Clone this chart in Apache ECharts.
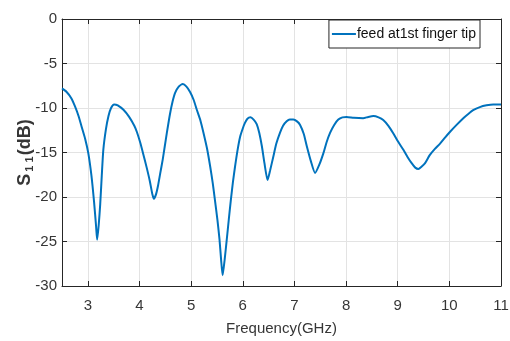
<!DOCTYPE html>
<html><head><meta charset="utf-8">
<script src="https://cdn.jsdelivr.net/npm/echarts@6/dist/echarts.min.js"></script>
<style>html,body{margin:0;padding:0;background:#fff}#c{width:510px;height:341px}</style>
</head><body><div id="c"></div>
<script>
const freqGHz = [2.50,2.59,2.68,2.75,2.82,2.88,2.95,3.01,3.07,3.12,3.16,3.18,3.21,3.24,3.27,3.30,3.35,3.40,3.45,3.51,3.58,3.69,3.80,3.90,3.95,4.01,4.07,4.14,4.20,4.25,4.28,4.32,4.36,4.40,4.45,4.49,4.53,4.59,4.64,4.69,4.76,4.84,4.91,4.98,5.05,5.11,5.18,5.24,5.31,5.37,5.42,5.46,5.51,5.55,5.58,5.61,5.65,5.69,5.73,5.77,5.81,5.85,5.90,5.95,6.00,6.04,6.09,6.15,6.21,6.27,6.32,6.37,6.42,6.48,6.53,6.59,6.65,6.72,6.78,6.85,6.91,6.98,7.05,7.11,7.18,7.24,7.32,7.40,7.48,7.56,7.62,7.69,7.77,7.85,7.93,8.01,8.15,8.33,8.43,8.53,8.63,8.72,8.82,8.91,9.01,9.11,9.19,9.27,9.34,9.40,9.46,9.53,9.62,9.72,9.82,9.92,10.01,10.14,10.27,10.36,10.46,10.59,10.72,10.85,11.00];
const s11dB = [-7.8,-8.2,-8.9,-9.8,-10.9,-12.1,-13.5,-15.1,-17.6,-20.5,-23.3,-24.8,-23.2,-20.8,-17.6,-14.7,-12.4,-10.9,-10.0,-9.6,-9.7,-10.2,-11.0,-12.0,-12.7,-13.8,-15.1,-16.7,-18.2,-19.7,-20.2,-19.7,-18.7,-17.4,-15.8,-14.3,-12.8,-10.7,-9.3,-8.3,-7.6,-7.3,-7.6,-8.2,-9.1,-10.2,-11.4,-12.8,-14.6,-16.6,-18.5,-20.3,-22.6,-24.8,-27.0,-28.8,-27.0,-24.8,-22.5,-20.3,-18.3,-16.6,-14.7,-13.2,-12.3,-11.7,-11.2,-11.05,-11.3,-11.8,-12.8,-14.3,-16.2,-18.1,-17.0,-15.5,-14.0,-12.8,-12.0,-11.5,-11.3,-11.3,-11.5,-11.9,-12.9,-14.3,-16.0,-17.3,-16.4,-15.1,-13.9,-12.8,-11.9,-11.3,-11.05,-11.0,-11.1,-11.15,-11.0,-10.9,-11.05,-11.35,-12.0,-12.8,-13.8,-14.7,-15.5,-16.2,-16.7,-16.85,-16.6,-16.2,-15.3,-14.6,-14.0,-13.3,-12.7,-11.9,-11.15,-10.7,-10.25,-9.9,-9.7,-9.6,-9.6];
const xTicks = [3,4,5,6,7,8,9,10,11];
const yTicks = [0,-5,-10,-15,-20,-25,-30];
const seriesName = 'feed at1st finger tip';

const FONT = "'Liberation Sans',Arial,sans-serif";
const AX = '#262626';
const TXT = '#363636';
const chart = echarts.init(document.getElementById('c'), null, {renderer:'canvas'});
const pts = freqGHz.map((f,i)=>[f, s11dB[i]]);
const xBase = {
  type:'value', min:2.5, max:11,
  axisLine:{show:true, onZero:false, lineStyle:{color:AX, width:1}},
  axisTick:{show:true, inside:true, length:5, customValues:xTicks, lineStyle:{color:AX}},
  splitLine:{show:false}
};
const yBase = {
  type:'value', min:-30, max:0, interval:5,
  axisLine:{show:true, onZero:false, lineStyle:{color:AX, width:1}},
  axisTick:{show:true, inside:true, length:5, lineStyle:{color:AX}},
  splitLine:{show:false}
};
chart.setOption({
  animation:false,
  backgroundColor:'#fff',
  grid:{left:62, right:9, top:19, bottom:55, containLabel:false, outerBoundsMode:'none'},
  legend:{
    show:true, right:30, top:20, orient:'horizontal',
    padding:[7,4,7,3], itemWidth:24, itemHeight:16, itemGap:0,
    borderColor:AX, borderWidth:1, backgroundColor:'#fff', borderRadius:0,
    textStyle:{fontFamily:FONT, fontSize:14, color:'#111', padding:[0,0,0,-4]},
    data:[{name:seriesName, icon:'path://M0,7 L24,7 L24,9 L0,9 Z'}]
  },
  xAxis:[
    Object.assign({}, xBase, {
      position:'bottom',
      name:'Frequency(GHz)', nameLocation:'middle', nameGap:35, nameMoveOverlap:false,
      nameTextStyle:{fontFamily:FONT, fontSize:15, color:TXT},
      axisLabel:{show:true, customValues:xTicks, margin:12, fontFamily:FONT, fontSize:15, color:TXT},
      splitLine:{show:true, lineStyle:{color:'#e3e3e3', width:1}}
    }),
    Object.assign({}, xBase, {position:'top', axisLabel:{show:false}})
  ],
  yAxis:[
    Object.assign({}, yBase, {
      position:'left',
      name:'{s|S}{sub|1 1}{s|(dB)}', nameLocation:'middle', nameGap:27, nameRotate:90, nameMoveOverlap:false,
      nameTextStyle:{
        color:TXT,
        rich:{
          s:{fontFamily:FONT, fontSize:18, lineHeight:20, fontWeight:'bold', color:TXT},
          sub:{fontFamily:FONT, fontSize:11, lineHeight:12, fontWeight:'bold', color:TXT, verticalAlign:'bottom', padding:[0,1,0,2]}
        }
      },
      axisLabel:{show:true, margin:5, fontFamily:FONT, fontSize:15, color:TXT},
      splitLine:{show:true, lineStyle:{color:'#e3e3e3', width:1}}
    }),
    Object.assign({}, yBase, {position:'right', axisLabel:{show:false}})
  ],
  series:[{
    name:seriesName, type:'line', data:pts, xAxisIndex:0, yAxisIndex:0,
    symbol:'none', showSymbol:false, smooth:0.2,
    lineStyle:{color:'#0072BD', width:2},
    itemStyle:{color:'#0072BD'}
  }]
});
</script></body></html>
